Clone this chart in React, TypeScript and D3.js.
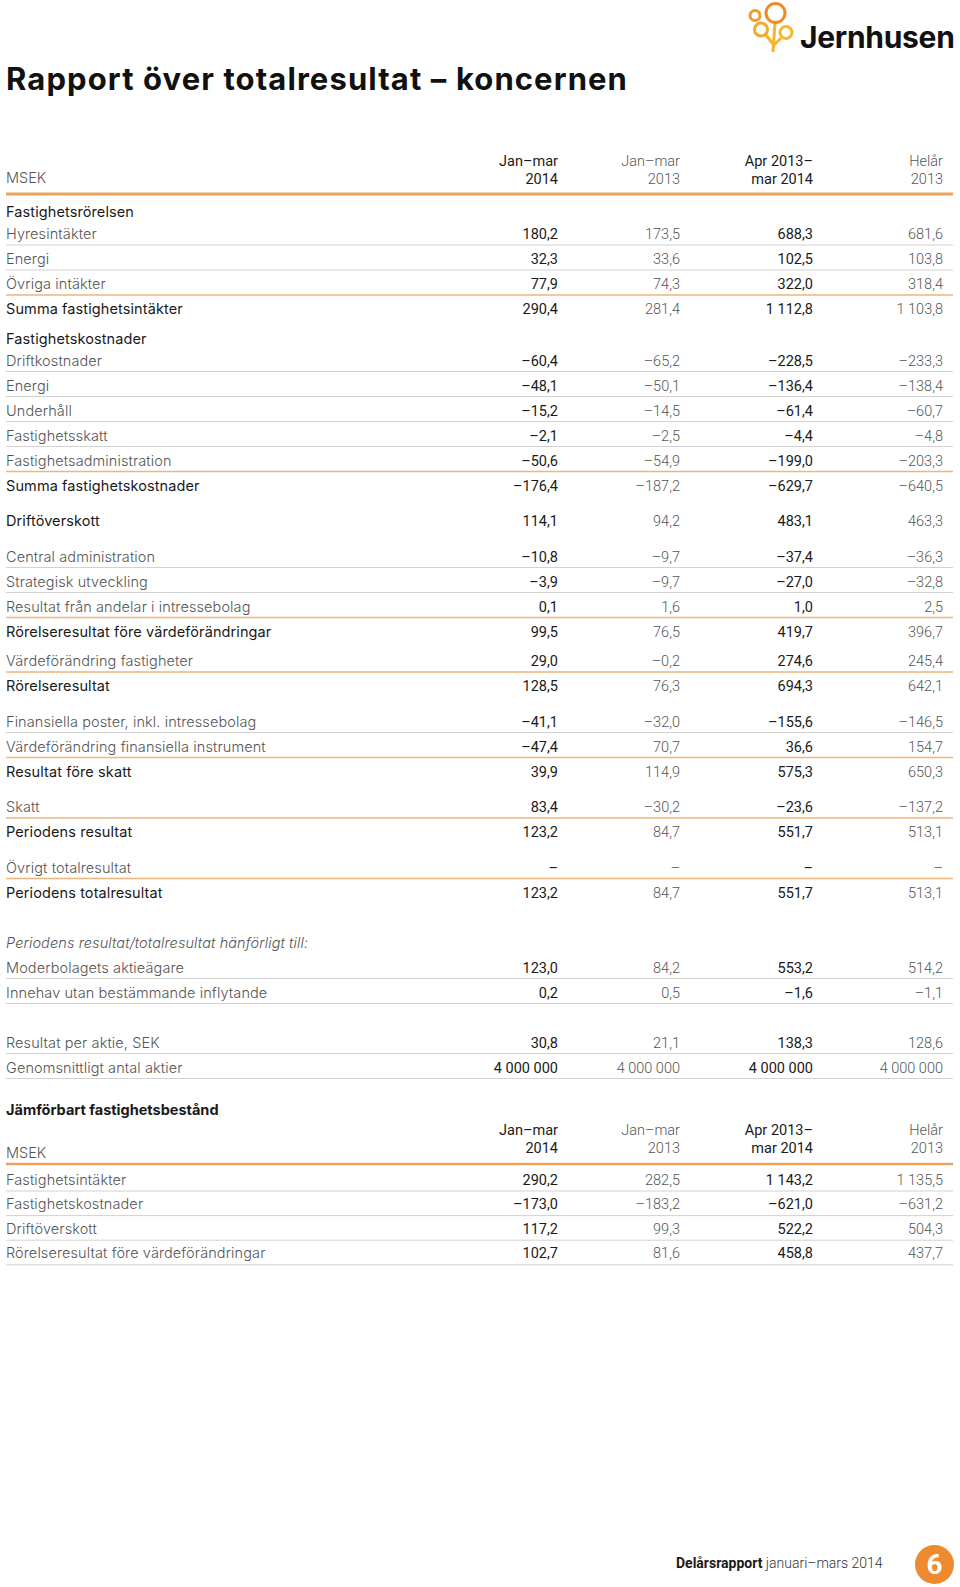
import React from 'react';
import * as d3 from 'd3';

const title = 'Rapport över totalresultat – koncernen';
const headTop = ['Jan–mar', 'Jan–mar', 'Apr 2013–', 'Helår'];
const headBottom = ['2014', '2013', 'mar 2014', '2013'];

// main statement
const labels = [
  'Fastighetsrörelsen', 'Hyresintäkter', 'Energi', 'Övriga intäkter', 'Summa fastighetsintäkter',
  'Fastighetskostnader', 'Driftkostnader', 'Energi', 'Underhåll', 'Fastighetsskatt',
  'Fastighetsadministration', 'Summa fastighetskostnader', 'Driftöverskott',
  'Central administration', 'Strategisk utveckling', 'Resultat från andelar i intressebolag',
  'Rörelseresultat före värdeförändringar', 'Värdeförändring fastigheter', 'Rörelseresultat',
  'Finansiella poster, inkl. intressebolag', 'Värdeförändring finansiella instrument',
  'Resultat före skatt', 'Skatt', 'Periodens resultat', 'Övrigt totalresultat',
  'Periodens totalresultat', 'Periodens resultat/totalresultat hänförligt till:',
  'Moderbolagets aktieägare', 'Innehav utan bestämmande inflytande',
  'Resultat per aktie, SEK', 'Genomsnittligt antal aktier',
];
const rowKinds = [
  'section', 'item', 'item', 'item', 'sum',
  'section', 'item', 'item', 'item', 'item', 'item', 'sum', 'sum',
  'item', 'item', 'item', 'sum', 'item', 'sum',
  'item', 'item', 'sum', 'item', 'sum', 'item', 'sum',
  'note', 'item', 'item', 'item', 'item',
];
// 0 = none, 1 = small, 2 = large, 3 = extra large break before the row
const blockBreaks = [
  0, 0, 0, 0, 0,
  1, 0, 0, 0, 0, 0, 0, 2,
  2, 0, 0, 0, 1, 0,
  2, 0, 0, 2, 0, 2, 0,
  3, 0, 0, 3, 0,
];
const janMar2014 = [null, 180.2, 32.3, 77.9, 290.4, null, -60.4, -48.1, -15.2, -2.1, -50.6, -176.4, 114.1,
  -10.8, -3.9, 0.1, 99.5, 29.0, 128.5, -41.1, -47.4, 39.9, 83.4, 123.2, null, 123.2, null, 123.0, 0.2, 30.8, 4000000];
const janMar2013 = [null, 173.5, 33.6, 74.3, 281.4, null, -65.2, -50.1, -14.5, -2.5, -54.9, -187.2, 94.2,
  -9.7, -9.7, 1.6, 76.5, -0.2, 76.3, -32.0, 70.7, 114.9, -30.2, 84.7, null, 84.7, null, 84.2, 0.5, 21.1, 4000000];
const aprMar = [null, 688.3, 102.5, 322.0, 1112.8, null, -228.5, -136.4, -61.4, -4.4, -199.0, -629.7, 483.1,
  -37.4, -27.0, 1.0, 419.7, 274.6, 694.3, -155.6, 36.6, 575.3, -23.6, 551.7, null, 551.7, null, 553.2, -1.6, 138.3, 4000000];
const helar2013 = [null, 681.6, 103.8, 318.4, 1103.8, null, -233.3, -138.4, -60.7, -4.8, -203.3, -640.5, 463.3,
  -36.3, -32.8, 2.5, 396.7, 245.4, 642.1, -146.5, 154.7, 650.3, -137.2, 513.1, null, 513.1, null, 514.2, -1.1, 128.6, 4000000];
const integerRows = ['Genomsnittligt antal aktier'];

// comparable portfolio
const compTitle = 'Jämförbart fastighetsbestånd';
const compLabels = ['Fastighetsintäkter', 'Fastighetskostnader', 'Driftöverskott', 'Rörelseresultat före värdeförändringar'];
const compJanMar2014 = [290.2, -173.0, 117.2, 102.7];
const compJanMar2013 = [282.5, -183.2, 99.3, 81.6];
const compAprMar = [1143.2, -621.0, 522.2, 458.8];
const compHelar2013 = [1135.5, -631.2, 504.3, 437.7];

const footerBold = 'Delårsrapport';
const footerText = ' januari–mars 2014';
const pageNo = '6';

const locale = d3.formatLocale({ decimal: ',', thousands: '\u00a0', grouping: [3], currency: ['', ''], minus: '–' });
const fmt1 = locale.format(',.1f');
const fmtInt = locale.format(',d');

const FONT = 'Roboto, sans-serif';
const LABEL_FONT = 'Inter, Roboto, sans-serif';
const LABEL_SIZE = 14.5;
const ORANGE = '#eda35f';
const ORANGE_THIN = '#eeb57d';
const GREY_LINE = '#d2d2d2';
const DARK = '#1a1a1a';
const GREY = '#555';

const colX = d3.scaleOrdinal<number, number>().domain([0, 1, 2, 3]).range([558, 680, 813, 943]);
const strong = (c: number) => c === 0 || c === 2;

const X0 = 6;
const X1 = 953;

function layoutRows() {
  const gaps = [0, 4.5, 10.5, 25];
  let y = 212;
  return labels.map((_, i) => {
    if (i > 0) y += (rowKinds[i - 1] === 'section' ? 22 : 25) + gaps[blockBreaks[i]];
    return y;
  });
}

function Header({ y, msekY }: { y: number; msekY: number }) {
  return (
    <g>
      <text x={X0} y={msekY + 5} fill={GREY} fontWeight={300} fontSize={LABEL_SIZE} fontFamily={LABEL_FONT}>MSEK</text>
      {headTop.map((t, c) => (
        <text key={'t' + c} x={colX(c)} y={y + 5} textAnchor="end" fontSize={14.5}
          fill={strong(c) ? DARK : GREY} fontWeight={strong(c) ? 400 : 300}>{t}</text>
      ))}
      {headBottom.map((t, c) => (
        <text key={'b' + c} x={colX(c)} y={y + 23} textAnchor="end" fontSize={14.5}
          fill={strong(c) ? DARK : GREY} fontWeight={strong(c) ? 400 : 300}>{t}</text>
      ))}
    </g>
  );
}

function Logo() {
  const stem = '#f6b52c';
  return (
    <g fill="none" strokeWidth={3}>
      <path d="M773,52 L775,23" stroke={stem} />
      <path d="M773,44 L766,35" stroke={stem} />
      <path d="M773,46 L781,38" stroke={stem} />
      <circle cx={775.5} cy={13} r={9.5} stroke="#f08a26" />
      <circle cx={755} cy={15.5} r={5} stroke="#f39a2a" />
      <circle cx={761} cy={29.5} r={6.5} stroke="#f4a82d" />
      <circle cx={786} cy={32.5} r={6} stroke="#f6b830" />
      <text x={800} y={48} fill="#111" stroke="none" fontSize={30} fontWeight={700} letterSpacing={-0.3}
        fontFamily={LABEL_FONT}>Jernhusen</text>
    </g>
  );
}

export default function App() {
  const rowY = layoutRows();
  const series = [janMar2014, janMar2013, aprMar, helar2013];
  const compSeries = [compJanMar2014, compJanMar2013, compAprMar, compHelar2013];
  const compY0 = 1179.5;
  const compStep = 24.6;

  return (
    <svg width={960} height={1587} style={{ position: 'absolute', left: 0, top: 0, background: '#fff' }}
      fontFamily={FONT}>
      <Logo />
      <text x={X0} y={89.5} fontSize={31} fontWeight={700} fill="#111" fontFamily={LABEL_FONT}
        letterSpacing={1.1}>{title}</text>

      <Header y={161} msekY={178} />
      <line x1={X0} x2={X1} y1={194} y2={194} stroke={ORANGE} strokeWidth={3} />

      {labels.map((label, i) => {
        const kind = rowKinds[i];
        const y = rowY[i];
        const next = rowKinds[i + 1];
        const isInt = integerRows.includes(label);
        const plain = kind === 'item' || kind === 'note';
        return (
          <g key={i}>
            {kind === 'item' && (
              <line x1={X0} x2={X1} y1={y + 11} y2={y + 11}
                stroke={next === 'sum' ? ORANGE_THIN : GREY_LINE} strokeWidth={next === 'sum' ? 1.4 : 1} />
            )}
            <text x={X0} y={y + 5} fontSize={LABEL_SIZE} fontFamily={LABEL_FONT} letterSpacing={0.1}
              fill={plain ? GREY : DARK}
              fontWeight={plain ? 300 : 400}
              fontStyle={kind === 'note' ? 'italic' : 'normal'}>{label}</text>
            {(kind === 'item' || kind === 'sum') && series.map((s, c) => {
              const v = s[i];
              const txt = v === null ? '–' : isInt ? fmtInt(v) : fmt1(v);
              return (
                <text key={c} x={colX(c)} y={y + 5} textAnchor="end" fontSize={14.5}
                  fill={strong(c) ? DARK : GREY} fontWeight={strong(c) ? 400 : 300}>{txt}</text>
              );
            })}
          </g>
        );
      })}

      <text x={X0} y={1115} fontSize={LABEL_SIZE} fontWeight={700} fill={DARK} fontFamily={LABEL_FONT}>{compTitle}</text>
      <Header y={1130} msekY={1153} />
      <line x1={X0} x2={X1} y1={1164} y2={1164} stroke={ORANGE} strokeWidth={2.5} />
      {compLabels.map((label, i) => {
        const y = compY0 + i * compStep;
        return (
          <g key={'c' + i}>
            <line x1={X0} x2={X1} y1={y + 11.5} y2={y + 11.5} stroke={GREY_LINE} strokeWidth={1} />
            <text x={X0} y={y + 5} fontSize={LABEL_SIZE} fill={GREY} fontWeight={300} fontFamily={LABEL_FONT}
              letterSpacing={0.1}>{label}</text>
            {compSeries.map((s, c) => (
              <text key={c} x={colX(c)} y={y + 5} textAnchor="end" fontSize={14.5}
                fill={strong(c) ? DARK : GREY} fontWeight={strong(c) ? 400 : 300}>{fmt1(s[i])}</text>
            ))}
          </g>
        );
      })}

      <text x={676} y={1568} fontSize={14} fill={DARK}>
        <tspan fontWeight={700}>{footerBold}</tspan>
        <tspan fontWeight={300} fill="#333">{footerText}</tspan>
      </text>
      <circle cx={934.5} cy={1564.5} r={19.5} fill="#ee8a2f" />
      <text x={934.5} y={1574} textAnchor="middle" fontSize={28} fontWeight={700} fill="#fff">{pageNo}</text>
    </svg>
  );
}
